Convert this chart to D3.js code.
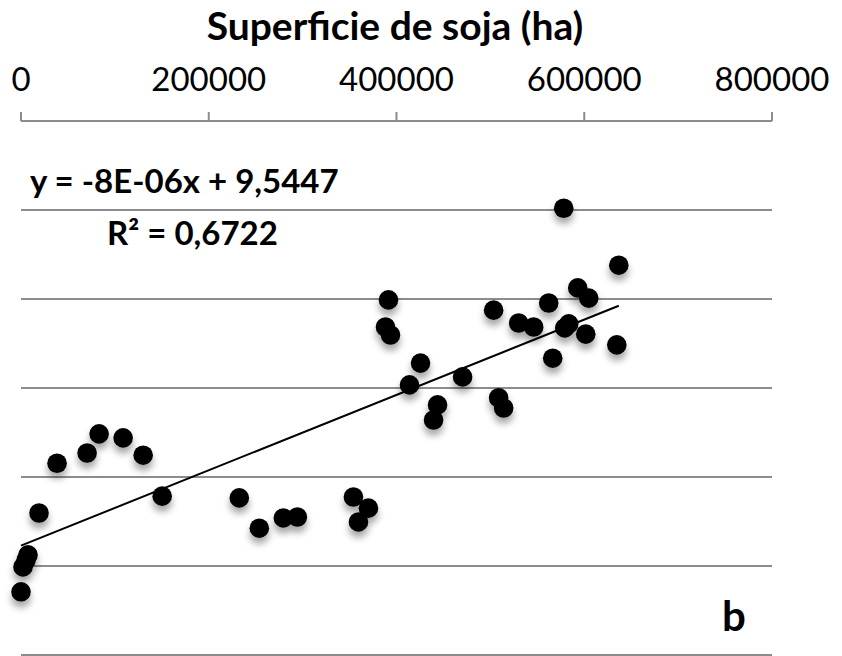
<html>
<head>
  <script src="https://d3js.org/d3.v7.min.js"></script>
  <style>
    body { margin: 0; background: white; }
    text { font-family: Lato, "Open Sans", sans-serif; fill: black; }
    .grid { stroke: #8c8c8c; stroke-width: 2px; }
    .axisline { stroke: #8c8c8c; stroke-width: 2px; fill: none; }
    .tick-label { font-size: 33px; }
    .title { font-size: 39px; font-weight: bold; }
    .eq { font-size: 33px; font-weight: bold; }
    .trend { stroke: black; stroke-width: 2px; }
  </style>
</head>
<body>
<svg id="chart" width="842" height="656"></svg>
<script>
// data: soybean area (ha) vs value on reversed y axis
const area = [0, 2133, 5333, 7467, 19200, 38400, 70400, 83200, 108800, 130133,
  150400, 232533, 253867, 279467, 294400, 354133, 370133, 359467, 578133, 391467,
  388267, 393600, 503467, 530133, 546133, 562133, 593067, 604800, 636800, 579200,
  583467, 601600, 634667, 566400, 425600, 413867, 470400, 443733, 439467, 508800, 514133];
const value = [10.58, 10.02, 9.87, 9.75, 8.81, 7.69, 7.46, 7.03, 7.12, 7.51,
  8.43, 8.47, 9.15, 8.92, 8.90, 8.45, 8.70, 9.01, 1.96, 4.02,
  4.63, 4.81, 4.25, 4.54, 4.63, 4.09, 3.75, 3.98, 3.24, 4.65,
  4.56, 4.79, 5.03, 5.33, 5.44, 5.93, 5.75, 6.38, 6.72, 6.22, 6.45];
const xTicks = [0, 200000, 400000, 600000, 800000];
const yGrid = [2, 4, 6, 8, 10, 12];
const eqText = "y = -8E-06x + 9,5447";
const r2Text = "R² = 0,6722";

const svg = d3.select("#chart");
const x = d3.scaleLinear().domain([0, 800000]).range([21, 772]);
const y = d3.scaleLinear().domain([0, 12]).range([121, 655]);

const defs = svg.append("defs");
const f = defs.append("filter").attr("id", "shadow")
  .attr("x", "-50%").attr("y", "-50%").attr("width", "200%").attr("height", "250%");
f.append("feDropShadow").attr("dx", 0).attr("dy", 6).attr("stdDeviation", 3.5)
  .attr("flood-color", "#000").attr("flood-opacity", 0.35);

// gridlines
svg.selectAll(".grid").data(yGrid).enter().append("line")
  .attr("class", "grid")
  .attr("x1", x(0)).attr("x2", x(800000))
  .attr("y1", d => y(d)).attr("y2", d => y(d));

// top x axis
svg.append("line").attr("class", "axisline")
  .attr("x1", x(0)).attr("x2", x(800000)).attr("y1", y(0)).attr("y2", y(0));
svg.selectAll(".tk").data(xTicks).enter().append("line")
  .attr("class", "axisline")
  .attr("x1", d => x(d)).attr("x2", d => x(d))
  .attr("y1", y(0)).attr("y2", y(0) - 9);
svg.selectAll(".tick-label").data(xTicks).enter().append("text")
  .attr("class", "tick-label")
  .attr("x", d => x(d)).attr("y", 91)
  .attr("text-anchor", "middle")
  .text(d => d);

svg.append("text").attr("class", "title")
  .attr("x", 395).attr("y", 40).attr("text-anchor", "middle")
  .text("Superficie de soja (ha)");

// linear trend computed from the points
const mx = d3.mean(area), my = d3.mean(value);
let sxy = 0, sxx = 0;
area.forEach((a, i) => { sxy += (a - mx) * (value[i] - my); sxx += (a - mx) * (a - mx); });
const slope = sxy / sxx, icpt = my - slope * mx;
const xmax = d3.max(area);
svg.append("line").attr("class", "trend")
  .attr("x1", x(0)).attr("y1", y(icpt))
  .attr("x2", x(xmax)).attr("y2", y(icpt + slope * xmax));

// points
svg.append("g").attr("filter", "url(#shadow)")
  .selectAll("circle").data(area).enter().append("circle")
  .attr("cx", d => x(d))
  .attr("cy", (d, i) => y(value[i]))
  .attr("r", 9.8)
  .attr("fill", "black");

svg.append("text").attr("class", "eq").attr("x", 30).attr("y", 193).text(eqText);
svg.append("text").attr("class", "eq").attr("x", 107).attr("y", 245).text(r2Text);
svg.append("text").attr("class", "eq").style("font-size", "42px")
  .attr("x", 722).attr("y", 631).text("b");
</script>
</body>
</html>
